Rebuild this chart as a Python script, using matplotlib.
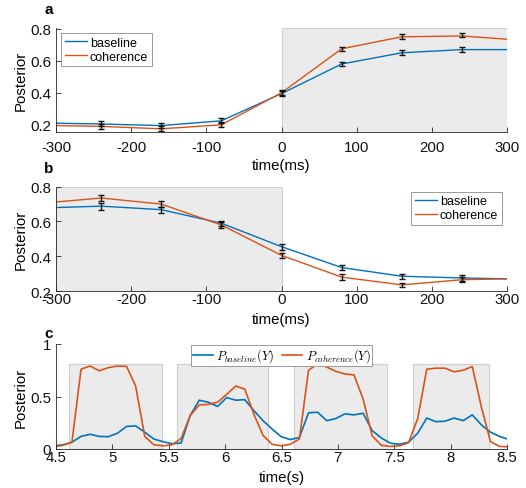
import numpy as np
import matplotlib
matplotlib.use("Agg")
import matplotlib.pyplot as plt

plt.rcParams['font.family'] = ['Liberation Sans', 'DejaVu Sans']
plt.rcParams['mathtext.fontset'] = 'cm'
plt.rcParams['axes.unicode_minus'] = False

BLUE = '#0072BD'
ORANGE = '#D95319'
AXC = '#262626'
GREY = '#EBEBEB'
GREY_EDGE = '#CFCFCF'
FS = 10.8

# panel a / b : posterior around the switch (ms)
t_ms = [-300, -240, -160, -80, 0, 80, 160, 240, 300]
a_base = [0.21, 0.205, 0.195, 0.225, 0.395, 0.58, 0.65, 0.67, 0.67]
a_coh = [0.195, 0.19, 0.175, 0.20, 0.40, 0.675, 0.75, 0.755, 0.735]
b_base = [0.68, 0.688, 0.668, 0.59, 0.455, 0.335, 0.285, 0.275, 0.27]
b_coh = [0.712, 0.735, 0.70, 0.58, 0.405, 0.28, 0.235, 0.265, 0.27]

# error bars only at the sampled points
t_err = [-240, -160, -80, 0, 80, 160, 240]
a_base_eb = [0.207, 0.195, 0.225, 0.395, 0.58, 0.652, 0.672]
a_coh_eb = [0.19, 0.177, 0.20, 0.40, 0.675, 0.752, 0.76]
a_base_err = [0.016, 0.018, 0.016, 0.016, 0.014, 0.014, 0.014]
a_coh_err = [0.016, 0.018, 0.016, 0.016, 0.014, 0.014, 0.014]
b_base_eb = [0.688, 0.668, 0.59, 0.455, 0.335, 0.285, 0.275]
b_coh_eb = [0.735, 0.70, 0.58, 0.405, 0.28, 0.235, 0.265]
b_base_err = [0.02, 0.018, 0.015, 0.018, 0.015, 0.015, 0.015]
b_coh_err = [0.02, 0.018, 0.015, 0.015, 0.015, 0.012, 0.015]

# panel c : posterior over time (s)
t_s = np.round(4.48 + 0.0807 * np.arange(51), 4)
c_base = [0.03, 0.04, 0.065, 0.12, 0.14, 0.12, 0.117, 0.15, 0.215, 0.22,
          0.16, 0.095, 0.07, 0.05, 0.057, 0.32, 0.465, 0.445, 0.405, 0.49,
          0.465, 0.47, 0.365, 0.27, 0.19, 0.117, 0.09, 0.11, 0.345, 0.35,
          0.27, 0.29, 0.335, 0.325, 0.34, 0.175, 0.105, 0.055, 0.045, 0.065,
          0.15, 0.295, 0.26, 0.265, 0.295, 0.27, 0.325, 0.23, 0.16, 0.12,
          0.09]
c_coh = [0.02, 0.035, 0.065, 0.76, 0.79, 0.745, 0.775, 0.79, 0.787, 0.60,
         0.12, 0.04, 0.03, 0.04, 0.10, 0.32, 0.42, 0.425, 0.445, 0.52,
         0.60, 0.57, 0.33, 0.13, 0.045, 0.03, 0.045, 0.095, 0.75, 0.81,
         0.78, 0.74, 0.715, 0.705, 0.475, 0.125, 0.035, 0.025, 0.03, 0.06,
         0.29, 0.76, 0.77, 0.77, 0.735, 0.75, 0.785, 0.40, 0.07, 0.025,
         0.02]
boxes = [(4.615, 5.437), (5.576, 6.383), (6.614, 7.433), (7.663, 8.337)]
box_top = 0.807

W, H = 526, 489
fig = plt.figure(figsize=(W / 100, H / 100), dpi=100)


def ax_at(top, bottom):
    return fig.add_axes([56 / W, (H - bottom) / H, 451 / W, (bottom - top) / H])


def style(ax, xpad, xlabpad):
    for s in ['top', 'right']:
        ax.spines[s].set_visible(False)
    for s in ['left', 'bottom']:
        ax.spines[s].set_color(AXC)
        ax.spines[s].set_linewidth(0.6)
    ax.tick_params(direction='in', length=3.5, width=0.6, colors=AXC,
                   labelsize=FS, labelcolor='#111111')
    ax.tick_params(axis='x', pad=xpad)
    ax.tick_params(axis='y', pad=3.5)
    ax.set_ylabel('Posterior', fontsize=FS, labelpad=2)
    ax.xaxis.labelpad = xlabpad


def legend_style(leg):
    leg.get_frame().set_edgecolor('#999999')
    leg.get_frame().set_linewidth(0.7)


def panel_ms(ax, base, coh, ebx, bb, be, cb, ce, shade, ylim, legloc, xpad, xlabpad):
    ax.axvspan(shade[0], shade[1], ymin=0, ymax=1, facecolor=GREY,
               edgecolor=GREY_EDGE, linewidth=0.8, zorder=0)
    ax.plot(t_ms, base, color=BLUE, lw=1.0, label='baseline', zorder=2)
    ax.plot(t_ms, coh, color=ORANGE, lw=1.0, label='coherence', zorder=2)
    ax.errorbar(ebx, bb, yerr=be, fmt='none', ecolor='#111111', elinewidth=1.0,
                capsize=2, capthick=1.0, zorder=3)
    ax.errorbar(ebx, cb, yerr=ce, fmt='none', ecolor='#111111', elinewidth=1.0,
                capsize=2, capthick=1.0, zorder=3)
    ax.set_xlim(-300, 300)
    ax.set_ylim(*ylim)
    ax.set_xticks([-300, -200, -100, 0, 100, 200, 300])
    ax.set_yticks([0.2, 0.4, 0.6, 0.8])
    ax.set_xlabel('time(ms)', fontsize=FS)
    style(ax, xpad, xlabpad)
    leg = ax.legend(loc=legloc, fontsize=9.0, handlelength=1.75,
                    handletextpad=0.25, borderpad=0.3, labelspacing=0.15,
                    borderaxespad=0.4, fancybox=False, framealpha=1)
    legend_style(leg)


ax_a = ax_at(29, 133)
panel_ms(ax_a, a_base, a_coh, t_err, a_base_eb, a_base_err, a_coh_eb, a_coh_err,
         (0, 300), (0.155, 0.805), 'upper left', 5.5, 3.5)
ax_a.set_yticklabels(['0.2', '0.4', '0.6', '0.8'])

ax_b = ax_at(187.7, 292)
panel_ms(ax_b, b_base, b_coh, t_err, b_base_eb, b_base_err, b_coh_eb, b_coh_err,
         (-300, 0), (0.2, 0.8), 'upper right', 0.5, 4.5)

ax_c = ax_at(345, 450)
for x0, x1 in boxes:
    ax_c.fill_between([x0, x1], 0, box_top, facecolor=GREY,
                      edgecolor=GREY_EDGE, linewidth=0.8, zorder=0)
ax_c.plot(t_s, c_base, color=BLUE, lw=1.2, label=r'$P_{baseline}(Y)$')
ax_c.plot(t_s, c_coh, color=ORANGE, lw=1.2, label=r'$P_{coherence}(Y)$')
ax_c.set_xlim(4.5, 8.5)
ax_c.set_ylim(0, 1)
ax_c.set_xticks([4.5, 5, 5.5, 6, 6.5, 7, 7.5, 8, 8.5])
ax_c.set_xticklabels(['4.5', '5', '5.5', '6', '6.5', '7', '7.5', '8', '8.5'])
ax_c.set_yticks([0, 0.5, 1])
ax_c.set_yticklabels(['0', '0.5', '1'])
ax_c.set_xlabel('time(s)', fontsize=FS)
style(ax_c, 0.5, 4.5)
leg = ax_c.legend(loc='upper center', bbox_to_anchor=(0.5, 1.0), ncol=2,
                  fontsize=9.0, handlelength=1.6, handletextpad=0.3,
                  columnspacing=0.6, borderpad=0.1, borderaxespad=0.1,
                  fancybox=False, framealpha=1)
legend_style(leg)

for lab, y in [('a', 10), ('b', 169), ('c', 334)]:
    fig.text(49 / W, 1 - y / H, lab, fontsize=11, fontweight='bold',
             ha='center', va='center')

fig.savefig('out.png', dpi=100)
